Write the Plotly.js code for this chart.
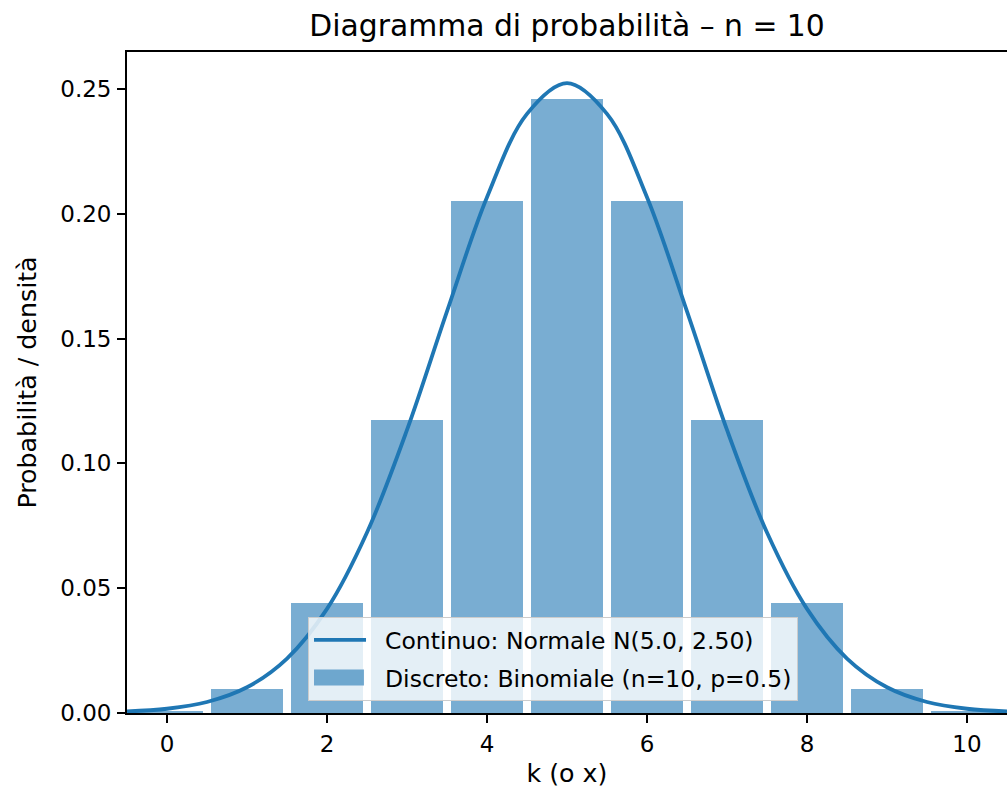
<!DOCTYPE html>
<html>
<head>
<meta charset="utf-8">
<script src="https://cdn.plot.ly/plotly-3.0.1.min.js"></script>
<style>html,body{margin:0;padding:0;background:#fff;}#chart{width:1008px;height:789px;}</style>
</head>
<body>
<div id="chart"></div>
<script>
// Discrete: binomial probabilities (n=10, p=0.5)
const kValues = [0, 1, 2, 3, 4, 5, 6, 7, 8, 9, 10];
const binomProb = [0.00098, 0.00977, 0.04395, 0.11719, 0.20508, 0.24609, 0.20508, 0.11719, 0.04395, 0.00977, 0.00098];
// Continuous: normal density N(5.0, 2.50)
const xCurve = [-0.5, 0, 0.5, 1, 1.5, 2, 2.5, 3, 3.5, 4, 4.5, 5, 5.5, 6, 6.5, 7, 7.5, 8, 8.5, 9, 9.5, 10, 10.5];
const yCurve = [0.0006, 0.0017, 0.0044, 0.0103, 0.0218, 0.0417, 0.0723, 0.1134, 0.1609, 0.2066, 0.2400, 0.2523, 0.2400, 0.2066, 0.1609, 0.1134, 0.0723, 0.0417, 0.0218, 0.0103, 0.0044, 0.0017, 0.0006];
const xTicks = [0, 2, 4, 6, 8, 10];
const yTicks = [0, 0.05, 0.10, 0.15, 0.20, 0.25];

const font = "DejaVu Sans, sans-serif";
const blue = "#1f77b4";

const traces = [
  {
    type: "bar", x: kValues, y: binomProb, width: 0.9,
    marker: {color: "rgba(31,119,180,0.6)", line: {width: 0}},
    name: "Discreto: Binomiale (n=10, p=0.5)", legendrank: 2, legendgroup: "b", hoverinfo: "x+y"
  },
  {
    type: "scatter", mode: "lines", x: xCurve, y: yCurve,
    line: {color: blue, width: 3.8, shape: "spline"},
    name: "Continuo: Normale N(5.0, 2.50)", legendrank: 1, legendgroup: "a"
  }
];

const layout = {
  width: 1008, height: 789,
  margin: {l: 127, r: 1, t: 52, b: 76},
  paper_bgcolor: "#fff", plot_bgcolor: "#fff",
  font: {family: font, size: 23, color: "#000"},
  title: {text: "Diagramma di probabilità – n = 10", font: {family: font, size: 29.8, color: "#000"},
          x: 0.5, xref: "paper", xanchor: "center", y: 0.968, yref: "container", yanchor: "middle"},
  showlegend: true,
  legend: {
    x: 0.2057, xanchor: "left", y: 0.145, yanchor: "top",
    bgcolor: "rgba(255,255,255,0.8)", bordercolor: "#cccccc", borderwidth: 1,
    font: {family: font, size: 23.5, color: "#000"}, traceorder: "grouped", tracegroupgap: 4,
    itemwidth: 66
  },
  xaxis: {
    range: [-0.5, 10.5], tickvals: xTicks, ticktext: xTicks.map(String),
    ticks: "outside", ticklen: 8, tickwidth: 1.8, tickcolor: "#000", ticklabelstandoff: 1,
    showline: true, linecolor: "#000", linewidth: 1.8, mirror: true,
    showgrid: false, zeroline: false,
    title: {text: "k (o x)", font: {family: font, size: 25.3, color: "#000"}, standoff: 9},
    tickfont: {family: font, size: 23, color: "#000"}
  },
  yaxis: {
    range: [0, 0.2648], tickvals: yTicks, ticktext: yTicks.map(v => v.toFixed(2)),
    ticks: "outside", ticklen: 8, tickwidth: 1.8, tickcolor: "#000", ticklabelstandoff: 1,
    showline: true, linecolor: "#000", linewidth: 1.8, mirror: false,
    showgrid: false, zeroline: false,
    title: {text: "Probabilità / densità", font: {family: font, size: 25.3, color: "#000"}, standoff: 16},
    tickfont: {family: font, size: 23, color: "#000"}
  },
  bargap: 0
};

Plotly.newPlot("chart", traces, layout, {displayModeBar: false, responsive: false}).then(gd => {
  // widen legend handles to match the reference's long swatches
  gd.querySelectorAll(".legend .legendlines path").forEach(p => p.setAttribute("d", "M5,0h52"));
  gd.querySelectorAll(".legend .legendpoints path").forEach(p => {
    p.setAttribute("d", "M5,8H55V-8H5Z");
    p.setAttribute("transform", "");
  });
});
</script>
</body>
</html>
